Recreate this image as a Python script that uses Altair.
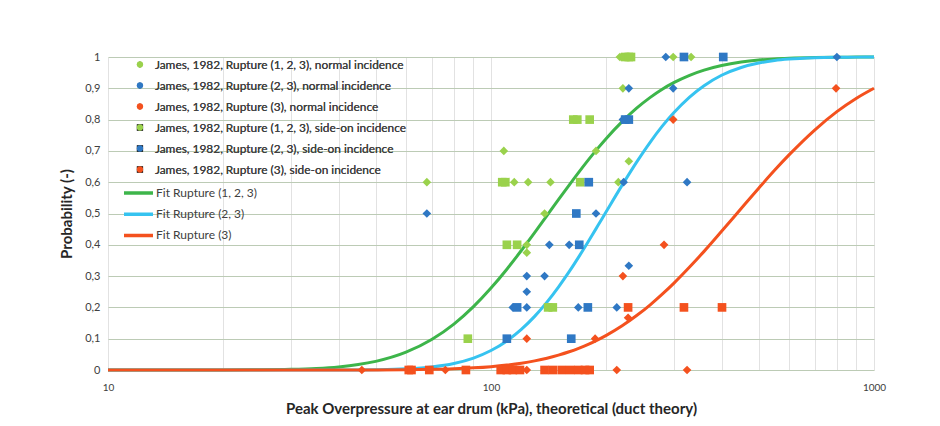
import altair as alt
import pandas as pd

# ---------------- scatter data (peak overpressure kPa, probability) ----------------
series_names = [
    "James, 1982, Rupture (1, 2, 3), normal incidence",
    "James, 1982, Rupture (2, 3), normal incidence",
    "James, 1982, Rupture (3), normal incidence",
    "James, 1982, Rupture (1, 2, 3), side-on incidence",
    "James, 1982, Rupture (2, 3), side-on incidence",
    "James, 1982, Rupture (3), side-on incidence",
]
series_colors = ["#9AD24C", "#2F78C4", "#F4511E", "#9AD24C", "#2F78C4", "#F4511E"]
series_shapes = ["diamond", "diamond", "diamond", "square", "square", "square"]

s1_x = [217, 299, 333, 221, 108, 188, 229, 68, 115, 125, 143, 215, 138, 124, 124]
s1_y = [1, 1, 1, 0.9, 0.7, 0.7, 0.667, 0.6, 0.6, 0.6, 0.6, 0.6, 0.5, 0.4, 0.375]

s2_x = [286, 800, 229, 299, 221, 222, 325, 68, 188, 142, 160, 229, 124, 138, 124, 114, 124, 169, 213]
s2_y = [1, 1, 0.9, 0.9, 0.8, 0.6, 0.6, 0.5, 0.5, 0.4, 0.4, 0.333, 0.3, 0.3, 0.25, 0.2, 0.2, 0.2, 0.2]

s3_x = [796, 299, 283, 221, 228, 124, 187, 46, 76, 124, 213, 325]
s3_y = [0.9, 0.8, 0.4, 0.3, 0.167, 0.1, 0.1, 0, 0, 0, 0, 0]

s4_x = [224, 229, 232, 164, 168, 181, 107, 109, 171, 110, 117, 141, 145, 87]
s4_y = [1, 1, 1, 0.8, 0.8, 0.8, 0.6, 0.6, 0.6, 0.4, 0.4, 0.2, 0.2, 0.1]

s5_x = [319, 404, 224, 229, 180, 167, 170, 117, 179, 110, 162]
s5_y = [1, 1, 0.8, 0.8, 0.6, 0.5, 0.4, 0.2, 0.2, 0.1, 0.1]

s6_x = [228, 319, 401, 61, 62, 69, 86, 106, 110, 114, 119, 138, 145, 153, 161, 169, 176, 181]
s6_y = [0.2, 0.2, 0.2, 0, 0, 0, 0, 0, 0, 0, 0, 0, 0, 0, 0, 0, 0, 0]

# ---------------- fitted curves ----------------
fit_names = ["Fit Rupture (1, 2, 3)", "Fit Rupture (2, 3)", "Fit Rupture (3)"]
fit_colors = ["#3DB54A", "#36C3F0", "#F4511E"]

fit_x = [10, 15, 20, 25, 30, 35, 40, 45, 50, 60, 70, 80, 90, 100, 110, 120, 130, 140,
         150, 160, 170, 180, 190, 200, 220, 240, 260, 280, 300, 330, 360, 400, 450,
         500, 550, 600, 700, 800, 900, 1000]
fit1_y = [0.0, 0.0, 0.0002, 0.0007, 0.0021, 0.005, 0.0099, 0.0173, 0.0275, 0.0568,
          0.0973, 0.1466, 0.2024, 0.2617, 0.322, 0.3817, 0.4388, 0.4934, 0.5442,
          0.591, 0.6338, 0.6729, 0.7081, 0.7399, 0.7936, 0.8365, 0.8703, 0.8971,
          0.918, 0.9416, 0.9581, 0.9728, 0.9839, 0.9903, 0.994, 0.9962, 0.9985,
          0.9993, 0.9997, 0.9999]
fit2_y = [0.0, 0.0, 0.0, 0.0, 0.0, 0.0, 0.0002, 0.0004, 0.001, 0.0037, 0.0098, 0.0209,
          0.0382, 0.0623, 0.0929, 0.1297, 0.1713, 0.2168, 0.265, 0.3142, 0.3639,
          0.4129, 0.4606, 0.5062, 0.5906, 0.6642, 0.7268, 0.7791, 0.822, 0.8722,
          0.9084, 0.9416, 0.9665, 0.9806, 0.9887, 0.9933, 0.9976, 0.9991, 0.9996,
          0.9999]
fit3_y = [0.0, 0.0, 0.0, 0.0, 0.0, 0.0, 0.0001, 0.0002, 0.0004, 0.001, 0.0021, 0.004,
          0.0068, 0.0107, 0.0157, 0.0218, 0.0292, 0.0377, 0.0475, 0.0582, 0.07,
          0.0827, 0.0964, 0.1107, 0.1412, 0.1739, 0.2075, 0.2423, 0.2769, 0.3289,
          0.379, 0.4431, 0.516, 0.5808, 0.638, 0.6872, 0.7667, 0.8254, 0.8684, 0.9003]

x_grid_values = [10, 20, 30, 40, 50, 60, 70, 80, 90, 100, 200, 300, 400, 500, 600,
                 700, 800, 900, 1000]
y_tick_values = [0, 0.1, 0.2, 0.3, 0.4, 0.5, 0.6, 0.7, 0.8, 0.9, 1.0]

# ---------------- tables ----------------
pts_rows = []
for name, xs, ys in zip(series_names,
                        [s1_x, s2_x, s3_x, s4_x, s5_x, s6_x],
                        [s1_y, s2_y, s3_y, s4_y, s5_y, s6_y]):
    for xv, yv in zip(xs, ys):
        pts_rows.append({"x": xv, "y": yv, "series": name})
pts = pd.DataFrame(pts_rows)

fit_rows = []
for name, ys in zip(fit_names, [fit1_y, fit2_y, fit3_y]):
    for xv, yv in zip(fit_x, ys):
        fit_rows.append({"x": xv, "y": yv, "fit": name})
fits = pd.DataFrame(fit_rows)

FONT = "Lato"

xscale = alt.Scale(type="log", domain=[10, 1000], nice=False)
yscale = alt.Scale(domain=[0, 1], nice=False)

xaxis = alt.Axis(
    values=x_grid_values,
    labelExpr="(datum.value == 10 || datum.value == 100 || datum.value == 1000) ? '' + datum.value : ''",
    title="Peak Overpressure at ear drum (kPa), theoretical (duct theory)",
    grid=True, gridColor="#e2e2e2", gridWidth=1,
    domain=False, ticks=False,
    labelFont=FONT, labelFontSize=10, labelColor="#404040", labelPadding=12,
    labelFlush=False,
    titleFont=FONT, titleFontSize=15, titleFontWeight="bold", titleColor="#262626",
    titlePadding=9,
)
yaxis = alt.Axis(
    values=y_tick_values,
    labelExpr="datum.value == 0 ? '0' : (datum.value == 1 ? '1' : replace(format(datum.value, '.1f'), '.', ','))",
    title="Probability (-)",
    grid=True, gridColor="#bccbb5", gridWidth=1,
    domain=False, ticks=False,
    labelFont=FONT, labelFontSize=11, labelColor="#404040", labelPadding=8,
    titleFont=FONT, titleFontSize=15, titleFontWeight="bold", titleColor="#262626",
    titlePadding=10,
)

pt_legend = alt.Legend(title=None, orient="none", legendX=26, legendY=1.5,
                       symbolSize=40, symbolStrokeWidth=0, clipHeight=12,
                       labelFont=FONT, labelFontSize=11.9,
                       labelColor="#404040", rowPadding=9.0,
                       labelOffset=9, padding=0, labelLimit=400)

points = alt.Chart(pts).mark_point(filled=True, opacity=1, size=75, strokeWidth=0).encode(
    x=alt.X("x:Q", scale=xscale, axis=xaxis),
    y=alt.Y("y:Q", scale=yscale, axis=yaxis),
    color=alt.Color("series:N", scale=alt.Scale(domain=series_names, range=series_colors),
                    legend=pt_legend),
    shape=alt.Shape("series:N", scale=alt.Scale(domain=series_names, range=series_shapes),
                    legend=pt_legend),
)

lines = alt.Chart(fits).mark_line(strokeWidth=3, interpolate="monotone").encode(
    x=alt.X("x:Q", scale=xscale, axis=xaxis),
    y=alt.Y("y:Q", scale=yscale, axis=yaxis),
    color=alt.Color("fit:N", scale=alt.Scale(domain=fit_names, range=fit_colors),
                    legend=alt.Legend(title=None, orient="none", legendX=14, legendY=130,
                                      symbolType="stroke", symbolSize=841,
                                      symbolStrokeWidth=3.5, clipHeight=12,
                                      labelFont=FONT, labelFontSize=12,
                                      labelColor="#404040", rowPadding=9.2,
                                      labelOffset=1, padding=0, labelLimit=400)),
)

chart = alt.layer(lines, points).resolve_scale(color="independent").properties(
    width=766, height=313,
    autosize=alt.AutoSizeParams(type="none"),
    padding={"left": 108, "top": 57, "right": 66, "bottom": 56},
    background="white",
).configure_view(stroke=None)

chart.save("out.html", embed_options={"renderer": "svg", "actions": False})
